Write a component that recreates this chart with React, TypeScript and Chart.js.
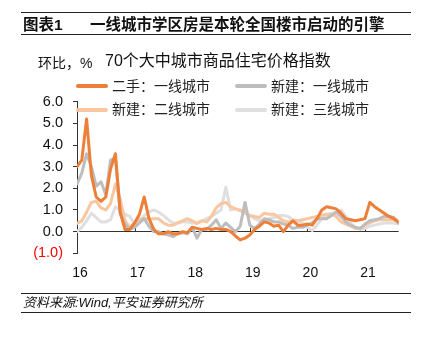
import React, { useEffect, useRef } from "react";
import { Chart, registerables } from "chart.js";

Chart.register(...registerables);

// Monthly categories Jan 2016 – Aug 2021
const months: string[] = [];
for (let y = 2016; y <= 2021; y++) {
  for (let m = 1; m <= 12; m++) {
    if (y === 2021 && m > 8) break;
    months.push(`${y}-${String(m).padStart(2, "0")}`);
  }
}

const yearTickLabels = ["16", "17", "18", "19", "20", "21"];

const seriesNames = ["二手：一线城市", "新建：一线城市", "新建：二线城市", "新建：三线城市"];

const secondHandTier1 = [
  3.0, 3.3, 5.2, 2.6, 1.6, 1.4, 1.6, 2.9, 3.6, 0.9, 0.1, 0.1,
  0.4, 0.8, 1.6, 0.6, 0.1, -0.1, -0.1, 0.0, -0.1, -0.1, 0.0, -0.05,
  0.2, 0.15, 0.1, 0.15, 0.1, 0.15, 0.1, 0.1, 0.0, -0.2, -0.38, -0.3,
  -0.15, 0.1, 0.25, 0.45, 0.4, 0.25, 0.3, 0.0, 0.3, 0.5, 0.3, 0.3,
  0.35, 0.3, 0.6, 1.0, 1.15, 1.1, 1.05, 0.85, 0.6, 0.55, 0.5, 0.55,
  0.6, 1.35, 1.15, 1.0, 0.85, 0.7, 0.6, 0.45,
];

const newTier1 = [
  2.2, 2.7, 3.6, 3.0, 2.1, 2.3, 1.7, 3.3, 3.4, 0.8, 0.35, 0.1,
  0.2, 0.4, 0.6, 0.25, 0.0, 0.0, -0.1, -0.15, -0.23, -0.1, -0.05, -0.1,
  0.2, -0.3, 0.1, 0.1, 0.3, 0.55, 0.15, 0.4, 0.2, 0.0, 0.25, 1.35,
  0.3, 0.15, 0.35, 0.6, 0.55, 0.45, 0.45, 0.35, 0.3, 0.15, 0.2, 0.2,
  0.3, 0.4, 0.6, 0.6, 0.6, 0.75, 0.9, 0.7, 0.45, 0.3, 0.2, 0.15,
  0.35, 0.5, 0.55, 0.6, 0.7, 0.7, 0.65, 0.4,
];

const newTier2 = [
  0.38, 0.5, 0.9, 1.35, 1.4, 1.1, 1.0, 1.3, 2.2, 1.5, 0.5, 0.2,
  0.4, 0.6, 0.6, 0.6, 0.6, 0.6, 0.4, 0.3, 0.3, 0.4, 0.5, 0.6,
  0.5, 0.38, 0.5, 0.45, 0.7, 1.1, 1.3, 1.35, 1.15, 1.05, 1.0, 0.85,
  0.75, 0.7, 0.65, 0.85, 0.8, 0.8, 0.65, 0.5, 0.45, 0.5, 0.5, 0.55,
  0.6, 0.65, 0.7, 0.75, 0.8, 0.8, 0.7, 0.45, 0.35, 0.25, 0.15, 0.15,
  0.3, 0.4, 0.5, 0.55, 0.55, 0.55, 0.55, 0.4,
];

const newTier3 = [
  0.0, 0.2, 0.5, 0.85, 0.65, 0.45, 0.45, 0.55, 1.15, 1.0, 0.8, 0.7,
  0.35, 0.45, 0.75, 0.9, 1.0, 0.9, 0.75, 0.55, 0.4, 0.4, 0.45, 0.45,
  0.4, 0.4, 0.5, 0.6, 0.7, 0.85, 1.0, 2.05, 1.0, 1.05, 0.95, 0.9,
  0.75, 0.6, 0.5, 0.5, 0.6, 0.65, 0.75, 0.75, 0.7, 0.55, 0.5, 0.4,
  0.2, 0.05, 0.3, 0.6, 0.75, 0.85, 0.9, 1.0, 0.7, 0.4, 0.2, 0.1,
  0.15, 0.25, 0.3, 0.35, 0.4, 0.4, 0.4, 0.35,
];

const seriesColors = ["#EE7F38", "#BDBDBD", "#F9C6A0", "#DFDFDF"];

const FONT = '"Liberation Sans", Arial, "Noto Sans CJK SC", sans-serif';

const zeroTickPlugin = {
  id: "zeroTicks",
  beforeDatasetsDraw(chart: any) {
    const x = chart.scales.x;
    const y = chart.scales.y;
    const y0 = y.getPixelForValue(0);
    const ctx = chart.ctx;
    ctx.save();
    ctx.strokeStyle = "#333";
    ctx.lineWidth = 1;
    x.ticks.forEach((t: any) => {
      if (t.value === 0) return;
      const px = Math.round(x.getPixelForValue(t.value)) + 0.5;
      ctx.beginPath();
      ctx.moveTo(px, y0 - 4);
      ctx.lineTo(px, y0);
      ctx.stroke();
    });
    ctx.restore();
  },
};

export default function App() {
  const ref = useRef<HTMLCanvasElement | null>(null);

  useEffect(() => {
    document.body.style.margin = "0";
    if (!ref.current) return;
    const all = [secondHandTier1, newTier1, newTier2, newTier3];
    const chart = new Chart(ref.current, {
      type: "line",
      data: {
        labels: months,
        datasets: all.map((arr, k) => ({
          label: seriesNames[k],
          data: arr.map((v, i) => ({ x: i, y: v })),
          borderColor: seriesColors[k],
          backgroundColor: seriesColors[k],
          borderWidth: 3,
          borderJoinStyle: "round" as const,
          borderCapStyle: "round" as const,
          pointRadius: 0,
          tension: 0,
          fill: false,
        })),
      },
      options: {
        animation: false,
        responsive: false,
        maintainAspectRatio: false,
        layout: { padding: { top: 101.7, right: 25.4, bottom: 0, left: 0 } },
        plugins: { legend: { display: false }, tooltip: { enabled: false }, title: { display: false } },
        scales: {
          x: {
            type: "linear",
            min: 0,
            max: months.length - 1,
            border: { display: false },
            grid: { display: false, drawTicks: false },
            ticks: {
              stepSize: 12,
              includeBounds: false,
              autoSkip: false,
              maxRotation: 0,
              labelOffset: 3,
              padding: 11,
              color: "#111",
              font: { family: FONT, size: 14 },
              callback: (v: any) => {
                const idx = Math.round(Number(v) / 12);
                return Number(v) % 12 === 0 ? yearTickLabels[idx] ?? "" : "";
              },
            },
            afterFit: (s: any) => {
              s.height = 341 - 253.3;
            },
          },
          y: {
            min: -1,
            max: 6,
            border: { display: true, color: "#333", width: 1 },
            grid: {
              drawTicks: true,
              tickLength: 4,
              tickColor: "#333",
              color: (c: any) => (c.tick && c.tick.value === 0 ? "#333" : "rgba(0,0,0,0)"),
            },
            ticks: {
              stepSize: 1,
              padding: 10,
              font: { family: FONT, size: 14.5 },
              color: (c: any) => (c.tick && c.tick.value < 0 ? "#FF0000" : "#111"),
              callback: (v: any) => {
                const n = Number(v);
                return n < 0 ? `(${Math.abs(n).toFixed(1)})` : n.toFixed(1);
              },
            },
            afterFit: (s: any) => {
              s.width = 77;
            },
          },
        },
      },
      plugins: [zeroTickPlugin],
    });
    return () => chart.destroy();
  }, []);

  const rule = (top: number): React.CSSProperties => ({
    position: "absolute",
    left: 21,
    width: 390,
    top,
    height: 0,
    borderTop: "1.5px solid #222",
  });

  const txt = (left: number, top: number, size: number, extra: React.CSSProperties = {}): React.CSSProperties => ({
    position: "absolute",
    left,
    top,
    fontSize: size,
    lineHeight: `${size}px`,
    whiteSpace: "nowrap",
    color: "#111",
    fontFamily: FONT,
    ...extra,
  });

  const legendItem = (k: number, lineLeft: number, cy: number) => (
    <React.Fragment key={k}>
      <div
        style={{
          position: "absolute",
          left: lineLeft,
          top: cy - 2,
          width: 32,
          height: 4,
          background: seriesColors[k],
          borderRadius: 2,
        }}
      />
      <div style={txt(lineLeft + 36, cy - 7.5, 14, { color: "#222" })}>{seriesNames[k]}</div>
    </React.Fragment>
  );

  return (
    <div style={{ position: "absolute", left: 0, top: 0, width: 424, height: 341, background: "#fff", overflow: "hidden" }}>
      <canvas ref={ref} width={424} height={341} style={{ position: "absolute", left: 0, top: 0, width: 424, height: 341 }} />
      <div style={rule(12)} />
      <div style={txt(23, 17, 15.5, { fontWeight: "bold" })}>图表1</div>
      <div style={txt(90, 17, 15.5, { fontWeight: "bold" })}>一线城市学区房是本轮全国楼市启动的引擎</div>
      <div style={rule(33.5)} />
      <div style={txt(38, 56, 14)}>环比，%</div>
      <div style={txt(105, 52.5, 16)}>70个大中城市商品住宅价格指数</div>
      {legendItem(0, 76, 86)}
      {legendItem(1, 235, 86)}
      {legendItem(2, 76, 109.5)}
      {legendItem(3, 235, 109.5)}
      <div style={rule(292.5)} />
      <div style={txt(23, 296, 13, { fontStyle: "italic" })}>资料来源:Wind,平安证券研究所</div>
      <div style={rule(311.5)} />
    </div>
  );
}
